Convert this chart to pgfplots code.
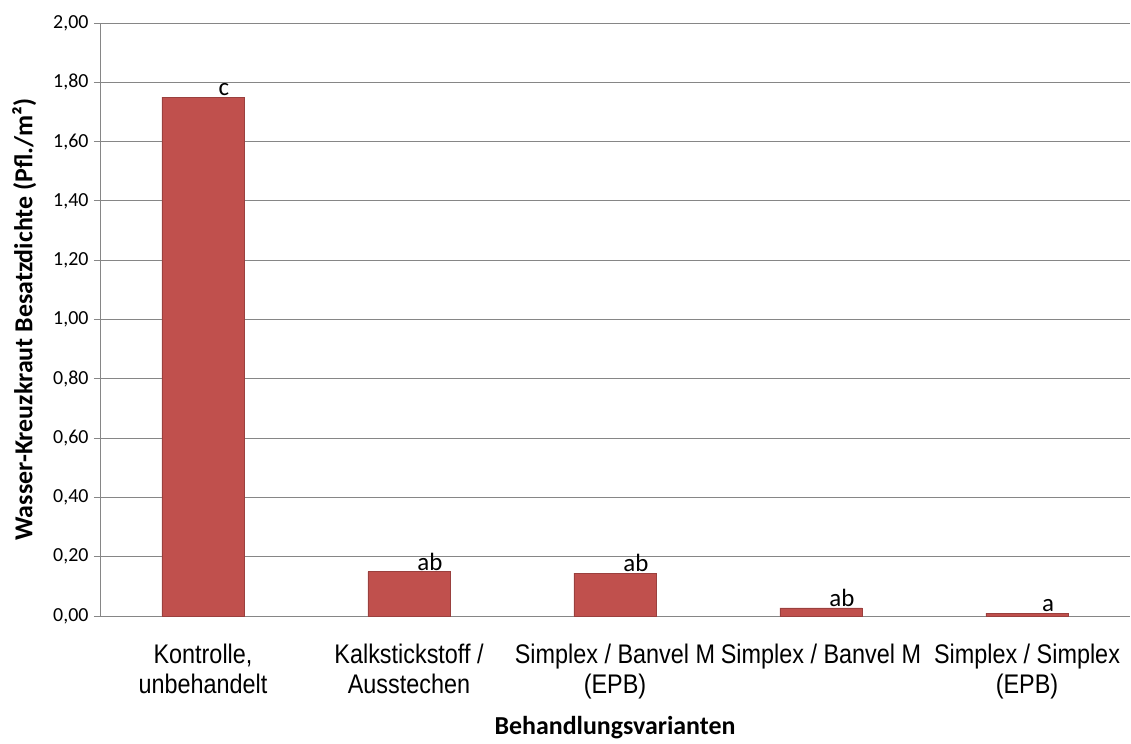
\documentclass[border=0pt]{standalone}
\usepackage{pgfplots}
\pgfplotsset{compat=1.18}
\usepackage{fontspec}
\setmainfont{Carlito}
\newfontfamily\arialfont[FakeStretch=0.87]{Liberation Sans}
\definecolor{barred}{RGB}{192,80,77}
\definecolor{gridgray}{RGB}{134,134,134}
\begin{document}
\begin{tikzpicture}
% axis box sits at (0,0)--(1030bp,593bp); page = reference frame
\useasboundingbox (-100bp,-128bp) rectangle (1031bp,616bp);
\begin{axis}[
  at={(0,0)}, anchor=south west,
  scale only axis,
  width=1030bp, height=593bp,
  xmin=-0.5, xmax=4.5,
  ymin=0, ymax=2,
  ytick={0,0.2,...,2.01},
  ymajorgrids,
  grid style={gridgray, line width=0.8pt},
  axis x line*=bottom,
  axis y line*=left,
  axis line style={gridgray, line width=0.8pt},
  x axis line style={-}, y axis line style={-},
  xtick={0,1,2,3,4},
  xticklabels={{Kontrolle,\\unbehandelt},{Kalkstickstoff /\\Ausstechen},{Simplex / Banvel M\\(EPB)},{Simplex / Banvel M},{Simplex / Simplex\\(EPB)}},
  xticklabel style={font=\arialfont\fontsize{27}{31}\selectfont, align=center, text=black, yshift=-18bp},
  major x tick style={draw=none},
  extra x ticks={-0.5,0.5,1.5,2.5,3.5,4.5},
  extra x tick labels={},
  extra x tick style={major tick length=9bp, tick align=outside, tick style={gridgray, line width=0.8pt}, grid=none},
  ytick align=outside,
  major tick length=6bp,
  ytick style={gridgray, line width=0.8pt},
  yticklabel style={font=\fontsize{20}{22}\selectfont, text=black, xshift=-2bp},
  y tick label style={/pgf/number format/.cd, fixed, fixed zerofill, precision=2, use comma},
  /pgf/number format/assume math mode=true,
  ylabel={Wasser-Kreuzkraut Besatzdichte (Pfl./m²)},
  ylabel style={font=\bfseries\fontsize{26}{30}\selectfont},
  xlabel={Behandlungsvarianten},
  xlabel style={font=\bfseries\fontsize{26}{30}\selectfont},
  xlabel shift=-5bp,
  ylabel shift=10bp,
  ybar,
  bar width=0.4,
  bar shift=0pt,
  nodes near coords,
  point meta=explicit symbolic,
  every node near coord/.append style={font=\fontsize{25}{28}\selectfont, text=black, xshift=21bp, inner sep=1bp},
]
\addplot[fill=barred, draw=barred!80!black, line width=0.4pt] coordinates {
  (0,1.75) [c]
  (1,0.15) [ab]
  (2,0.145) [ab]
  (3,0.027) [ab]
  (4,0.01) [a]
};
\end{axis}
\end{tikzpicture}
\end{document}
